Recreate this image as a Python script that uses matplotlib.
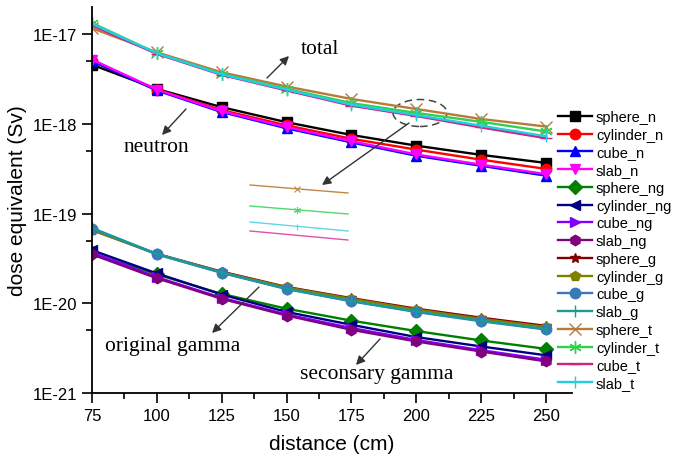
import numpy as np
import matplotlib
matplotlib.use('Agg')
import matplotlib.pyplot as plt
from matplotlib.patches import Ellipse
from matplotlib.ticker import LogLocator, NullFormatter, FixedLocator, MultipleLocator

plt.rcParams['font.family'] = ['Liberation Sans', 'DejaVu Sans']

distance = [75, 100, 125, 150, 175, 200, 225, 250]

# neutron
sphere_n = [4.55e-18, 2.44e-18, 1.53e-18, 1.04e-18, 7.5e-19, 5.7e-19, 4.5e-19, 3.66e-19]
cylinder_n = [5.0e-18, 2.4e-18, 1.42e-18, 9.6e-19, 6.8e-19, 5.15e-19, 3.98e-19, 3.14e-19]
cube_n = [5.0e-18, 2.35e-18, 1.35e-18, 8.9e-19, 6.2e-19, 4.4e-19, 3.4e-19, 2.64e-19]
slab_n = [5.2e-18, 2.4e-18, 1.38e-18, 9.2e-19, 6.4e-19, 4.55e-19, 3.5e-19, 2.75e-19]
# secondary gamma
sphere_ng = [3.6e-20, 2.1e-20, 1.27e-20, 8.7e-21, 6.4e-21, 4.9e-21, 3.85e-21, 3.1e-21]
cylinder_ng = [3.9e-20, 2.15e-20, 1.25e-20, 8.0e-21, 5.75e-21, 4.2e-21, 3.3e-21, 2.63e-21]
cube_ng = [3.7e-20, 1.95e-20, 1.15e-20, 7.5e-21, 5.3e-21, 3.9e-21, 3.0e-21, 2.35e-21]
slab_ng = [3.5e-20, 1.9e-20, 1.12e-20, 7.3e-21, 5.06e-21, 3.75e-21, 2.9e-21, 2.25e-21]
# original gamma
sphere_g = [6.6e-20, 3.55e-20, 2.25e-20, 1.52e-20, 1.14e-20, 8.7e-21, 6.9e-21, 5.6e-21]
cylinder_g = [6.5e-20, 3.55e-20, 2.22e-20, 1.5e-20, 1.12e-20, 8.5e-21, 6.7e-21, 5.45e-21]
cube_g = [6.8e-20, 3.5e-20, 2.18e-20, 1.44e-20, 1.05e-20, 8.0e-21, 6.3e-21, 5.1e-21]
slab_g = [6.9e-20, 3.55e-20, 2.2e-20, 1.45e-20, 1.06e-20, 8.1e-21, 6.4e-21, 5.15e-21]
# total
sphere_t = [1.16e-17, 6.25e-18, 3.74e-18, 2.6e-18, 1.89e-18, 1.46e-18, 1.13e-18, 9.3e-19]
cylinder_t = [1.33e-17, 6.1e-18, 3.6e-18, 2.45e-18, 1.7e-18, 1.32e-18, 1.05e-18, 8.2e-19]
cube_t = [1.25e-17, 6.0e-18, 3.5e-18, 2.35e-18, 1.59e-18, 1.22e-18, 9.1e-19, 6.9e-19]
slab_t = [1.3e-17, 6.1e-18, 3.55e-18, 2.4e-18, 1.63e-18, 1.25e-18, 9.5e-19, 7.25e-19]

series = [
    ('sphere_n', sphere_n, 'black', 's'),
    ('cylinder_n', cylinder_n, 'red', 'o'),
    ('cube_n', cube_n, 'blue', '^'),
    ('slab_n', slab_n, 'magenta', 'v'),
    ('sphere_ng', sphere_ng, '#008000', 'D'),
    ('cylinder_ng', cylinder_ng, '#000080', '<'),
    ('cube_ng', cube_ng, '#8000ff', '>'),
    ('slab_ng', slab_ng, '#800080', 'h'),
    ('sphere_g', sphere_g, '#800000', '*'),
    ('cylinder_g', cylinder_g, '#808000', 'p'),
    ('cube_g', cube_g, '#3a78b8', 'o'),
    ('slab_g', slab_g, '#1a9a9a', '|'),
    ('sphere_t', sphere_t, '#b87a3c', 'x'),
    ('cylinder_t', cylinder_t, '#30d050', (6, 2, 0)),
    ('cube_t', cube_t, '#d0208a', '_'),
    ('slab_t', slab_t, '#20d0e0', '|'),
]

fig = plt.figure(figsize=(6.81, 4.56), dpi=100)
ax = fig.add_axes([92 / 681, 1 - 394 / 456, 480 / 681, 386 / 456])

for name, vals, col, mk in series:
    thin = mk in ('|', '_', 'x', (6, 2, 0))
    ax.plot(distance, vals, color=col, marker=mk, lw=1.7,
            ms=9 if thin else 7.5, mew=1.0, label=name)

ax.set_yscale('log')
ax.set_xlim(75, 260)
ax.set_ylim(1e-21, 2e-17)
ax.xaxis.set_major_locator(FixedLocator(distance))
ax.xaxis.set_minor_locator(MultipleLocator(12.5))
ax.yaxis.set_major_locator(LogLocator(base=10))
ax.yaxis.set_minor_locator(LogLocator(base=10, subs=[5]))
ax.yaxis.set_minor_formatter(NullFormatter())
ax.set_yticks([1e-21, 1e-20, 1e-19, 1e-18, 1e-17])
ax.set_yticklabels(['1E-21', '1E-20', '1E-19', '1E-18', '1E-17'])
ax.tick_params(which='major', length=7, width=1.2, labelsize=12)
ax.tick_params(which='minor', length=4, width=1.2)
for s in ['top', 'right']:
    ax.spines[s].set_visible(False)
for s in ['left', 'bottom']:
    ax.spines[s].set_linewidth(1.3)

ax.set_xlabel('distance (cm)', fontsize=15, labelpad=8)
ax.set_ylabel('dose equivalent (Sv)', fontsize=15, labelpad=4)

leg = ax.legend(loc='upper left', bbox_to_anchor=(558 / 681, 1 - 111 / 456),
                bbox_transform=fig.transFigure, frameon=False, fontsize=10.5,
                handlelength=2.3, handletextpad=0.3, labelspacing=0.257,
                borderpad=0, borderaxespad=0)


def af(px, py):
    # pixel (from top-left of image) -> axes fraction
    return ((px - 92) / 480, (394 - py) / 386)


serif = ['Liberation Serif', 'DejaVu Serif']
labels = [('total', (320, 50)), ('neutron', (156, 148)),
          ('original gamma', (173, 347)), ('seconsary gamma', (377, 375))]
for txt, p in labels:
    ax.text(*af(*p), txt, transform=ax.transAxes, ha='center', va='center',
            fontsize=15.5, family=serif)

arrows = [((267, 79), (289, 57)), ((186, 110), (162, 136)),
          ((409, 124), (322, 186)), ((259, 288), (212, 334)),
          ((380, 340), (356, 366))]
for tail, head in arrows:
    ax.annotate('', xy=af(*head), xytext=af(*tail), xycoords='axes fraction',
                textcoords='axes fraction',
                arrowprops=dict(arrowstyle='-|>', color='#333333', lw=1.0,
                                mutation_scale=13, shrinkA=0, shrinkB=0))

ax.add_patch(Ellipse(af(420, 114), 54 / 480, 27 / 386, transform=ax.transAxes,
                     fill=False, ls=(0, (5, 3)), lw=1.1, ec='#444444'))

# magnified view of total curves
inset = [('#c08848', 186, 194, 'x'), ('#50d870', 207, 215, (6, 2, 0)),
         ('#60d8e0', 223, 232, '|'), ('#e050a8', 232, 241, None)]
for col, y0, y1, mk in inset:
    p0 = af(250, y0)
    p1 = af(348, y1)
    ax.plot([p0[0], p1[0]], [p0[1], p1[1]], color=col, lw=1.0, transform=ax.transAxes)
    if mk is not None:
        pm = af(297, (y0 + y1) / 2)
        ax.plot([pm[0]], [pm[1]], color=col, marker=mk, ms=5, mew=0.8,
                transform=ax.transAxes)

fig.savefig('out.png', dpi=100)
